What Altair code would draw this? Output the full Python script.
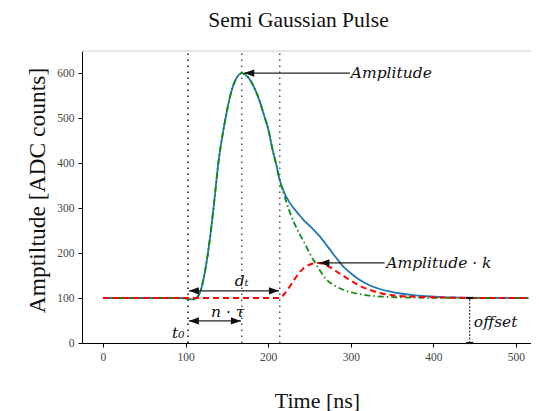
import altair as alt
import pandas as pd

# ---------------- data ----------------
t_green = [0, 50, 90, 100, 105, 110, 115, 120, 125, 130, 135, 140, 145, 150, 155, 160, 165, 168,
           172, 178, 185, 190, 195, 200, 205, 210, 214, 220, 226, 232, 238, 243, 250, 255, 262,
           270, 280, 290, 300, 320, 340, 360, 380, 400, 450, 515]
v_green = [100, 100, 100, 99.5, 97.5, 97, 104, 128, 175, 240, 320, 405, 465, 515, 556, 583, 597, 600,
           597, 585, 560, 536, 506, 476, 432, 395, 362, 325, 292, 265, 242, 226, 200, 184, 163,
           142, 128, 119, 113, 106, 103, 101.5, 100.7, 100.3, 100, 100]

t_blue = [0, 50, 90, 100, 105, 110, 115, 120, 125, 130, 135, 140, 145, 150, 155, 160, 165, 168,
          172, 178, 185, 190, 195, 200, 205, 210, 214, 220, 226, 232, 238, 243, 250, 256, 262,
          268, 275, 282, 291, 300, 311, 322, 335, 348, 360, 375, 392, 410, 430, 460, 515]
v_blue = [100, 100, 100, 99.5, 97.5, 97, 104, 128, 175, 240, 320, 405, 465, 515, 556, 583, 597, 600,
          597, 585, 560, 536, 506, 476, 432, 395, 362, 332, 312, 297, 284, 273, 261, 250, 238,
          224, 207, 190, 170, 155, 140, 129, 120, 114, 110, 106.5, 104, 102, 101, 100.3, 100]

t_red = [0, 100, 200, 214, 220, 226, 232, 238, 244, 250, 256, 261, 268, 275, 282, 290, 299, 310,
         323, 335, 351, 370, 384, 400, 430, 460, 515]
v_red = [100, 100, 100, 100, 110, 125, 142, 157, 168, 174, 177, 178, 175, 168, 160, 150, 140, 128,
         118, 111, 106, 103.5, 102.5, 101.5, 100.5, 100, 100]

vline_t = [103, 168, 214]
vline_color = ["#111111", "#555555", "#555555"]

x_ticks = [0, 100, 200, 300, 400, 500]
y_ticks = [0, 100, 200, 300, 400, 500, 600]
x_domain = [-25.4, 518.2]
y_domain = [0, 649]

# arrows: (x start, x end, y)
arrow_x1 = [171, 262, 104, 104]
arrow_x2 = [299, 341, 213, 167]
arrow_y = [600, 178, 116, 49]
left_heads_x = [171, 262, 104, 104]
left_heads_y = [600, 178, 116, 49]
right_heads_x = [213, 167]
right_heads_y = [116, 49]

label_text = ["Amplitude", "Amplitude · k", "dₜ", "n · τ", "t₀", "offset"]
label_x = [300, 343, 168, 151, 91, 449]
label_y = [600, 178, 138, 70, 22, 47]
label_align = ["left", "left", "center", "center", "center", "left"]

offset_t = 444
offset_lo = 0
offset_hi = 100

# ---------------- chart ----------------
SERIF = "Liberation Serif"
MATH = "DejaVu Serif"
xs = alt.Scale(domain=x_domain, nice=False, zero=False)
ys = alt.Scale(domain=y_domain, nice=False, zero=False)

x_axis = alt.Axis(values=x_ticks, title="Time [ns]", grid=False, domainColor="black",
                  tickColor="black", tickSize=4, labelFont=SERIF, labelFontSize=11.5,
                  labelColor="#444", titleFont=SERIF, titleFontSize=22, titleFontWeight="normal",
                  titleColor="#111", titleX=235, titleY=57, titleBaseline="middle",
                  labelPadding=4, format="d")
y_axis = alt.Axis(values=y_ticks, title="Amptiltude [ADC counts]", grid=False, domainColor="black",
                  tickColor="black", tickSize=4, labelFont=SERIF, labelFontSize=11.5,
                  labelColor="#444", titleFont=SERIF, titleFontSize=23.5, titleFontWeight="normal",
                  titleColor="#111", titleX=-45, titleY=139, titleAngle=-90, titleAlign="center",
                  titleBaseline="middle", labelPadding=4, format="d")


def X(field):
    return alt.X(field, type="quantitative", scale=xs, axis=x_axis)


def Y(field):
    return alt.Y(field, type="quantitative", scale=ys, axis=y_axis)


blue_df = pd.DataFrame({"t": t_blue, "v": v_blue})
green_df = pd.DataFrame({"t": t_green, "v": v_green})
red_df = pd.DataFrame({"t": t_red, "v": v_red})

blue = alt.Chart(blue_df).mark_line(color="#1f77b4", strokeWidth=1.8, interpolate="monotone").encode(
    x=X("t"), y=Y("v"))
green = alt.Chart(green_df).mark_line(color="#108a10", strokeWidth=1.8, strokeDash=[6, 3, 1.5, 3],
                                      interpolate="monotone").encode(x=X("t"), y=Y("v"))
red = alt.Chart(red_df).mark_line(color="#ff0000", strokeWidth=2, strokeDash=[6, 4],
                                  interpolate="monotone").encode(x=X("t"), y=Y("v"))

top_df = pd.DataFrame({"x1": [x_domain[0]], "x2": [x_domain[1]], "y": [y_domain[1]]})
top_line = alt.Chart(top_df).mark_rule(color="#cccccc", strokeWidth=1).encode(
    x=X("x1"), x2="x2", y=Y("y"))

vl_df = pd.DataFrame({"t": vline_t, "c": vline_color, "lo": [y_domain[0]] * 3, "hi": [y_domain[1]] * 3})
vlines = alt.Chart(vl_df).mark_rule(strokeDash=[1.5, 4.5], strokeWidth=1.5).encode(
    x=X("t"), y=Y("lo"), y2="hi",
    color=alt.Color("c:N", scale=None),
)

ar_df = pd.DataFrame({"x1": arrow_x1, "x2": arrow_x2, "y": arrow_y})
arrows = alt.Chart(ar_df).mark_rule(color="#222", strokeWidth=1.3).encode(
    x=X("x1"), x2="x2", y=Y("y"))
lh_df = pd.DataFrame({"x": left_heads_x, "y": left_heads_y})
lheads = alt.Chart(lh_df).mark_point(shape="M 0 0 L 1 -0.36 L 1 0.36 Z", size=400, filled=True,
                                     color="#111", opacity=1).encode(x=X("x"), y=Y("y"))
rh_df = pd.DataFrame({"x": right_heads_x, "y": right_heads_y})
rheads = alt.Chart(rh_df).mark_point(shape="M 0 0 L -1 -0.36 L -1 0.36 Z", size=400, filled=True,
                                     color="#111", opacity=1).encode(x=X("x"), y=Y("y"))

off_df = pd.DataFrame({"t": [offset_t], "lo": [offset_lo], "hi": [offset_hi]})
off_line = alt.Chart(off_df).mark_rule(color="#111", strokeDash=[2, 1.5], strokeWidth=1).encode(
    x=X("t"), y=Y("lo"), y2="hi")
cap_df = pd.DataFrame({"t": [offset_t, offset_t], "v": [offset_lo, offset_hi]})
off_caps = alt.Chart(cap_df).mark_point(shape="M -1 -0.3 L 1 -0.3 L 1 0.3 L -1 0.3 Z", size=49,
                                        filled=True, color="#111", opacity=1).encode(
    x=X("t"), y=Y("v"))

lab_df = pd.DataFrame({"txt": label_text, "x": label_x, "y": label_y, "al": label_align})
labels_l = alt.Chart(lab_df[lab_df.al == "left"]).mark_text(
    align="left", baseline="middle", font=MATH, fontStyle="italic", fontSize=15.5, color="#111").encode(
    x=X("x"), y=Y("y"), text="txt:N")
labels_c = alt.Chart(lab_df[lab_df.al == "center"]).mark_text(
    align="center", baseline="middle", font=MATH, fontStyle="italic", fontSize=15.5, color="#111").encode(
    x=X("x"), y=Y("y"), text="txt:N")

chart = alt.layer(
    top_line, vlines, blue, green, red, arrows, lheads, rheads, off_line, off_caps, labels_l, labels_c
).properties(
    width=449, height=292,
    title=alt.TitleParams("Semi Gaussian Pulse", font=SERIF, fontSize=21.5, fontWeight="normal",
                          color="#111", anchor="middle", baseline="bottom", frame="group",
                          offset=1, dx=-8, dy=4),
    padding={"left": 74, "top": 43, "right": 0, "bottom": 68},
    autosize=alt.AutoSizeParams(type="none"),
).configure_view(stroke=None).configure_axis(labelFont=SERIF)

chart.save("out.html", embed_options={"renderer": "svg", "actions": False})
